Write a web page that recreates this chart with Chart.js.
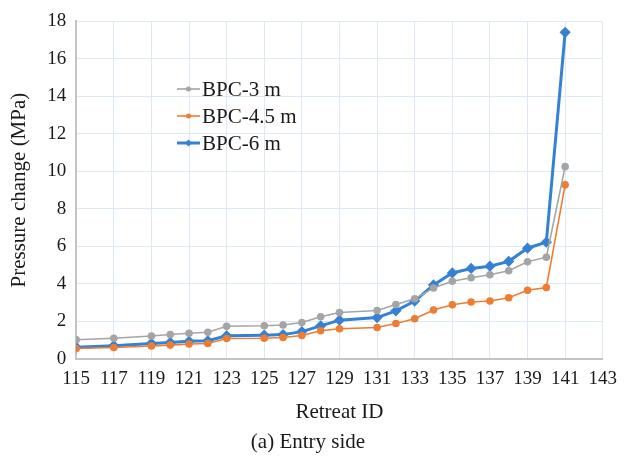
<!DOCTYPE html>
<html>
<head>
<meta charset="utf-8">
<script src="https://cdn.jsdelivr.net/npm/chart.js@4.4.0/dist/chart.umd.min.js"></script>
<style>
  html, body { margin: 0; padding: 0; background: #fff; }
  #wrap { width: 626px; height: 464px; position: relative; }
</style>
</head>
<body>
<div id="wrap"><canvas id="mychart_line"></canvas></div>
<script>
// データ
var retreatIds = [115, 117, 119, 120, 121, 122, 123, 125, 126, 127, 128, 129, 131, 132, 133, 134, 135, 136, 137, 138, 139, 140, 141];
var bpc3  = [1.02, 1.1, 1.22, 1.3, 1.36, 1.42, 1.74, 1.76, 1.8, 1.94, 2.24, 2.47, 2.58, 2.9, 3.2, 3.78, 4.14, 4.32, 4.48, 4.7, 5.18, 5.42, 10.25];
var bpc45 = [0.55, 0.6, 0.68, 0.73, 0.79, 0.82, 1.08, 1.1, 1.14, 1.24, 1.5, 1.6, 1.67, 1.88, 2.14, 2.6, 2.88, 3.03, 3.08, 3.26, 3.66, 3.8, 9.28];
var bpc6  = [0.62, 0.7, 0.82, 0.87, 0.93, 0.96, 1.23, 1.26, 1.29, 1.45, 1.76, 2.06, 2.2, 2.56, 3.08, 3.94, 4.58, 4.82, 4.94, 5.2, 5.9, 6.22, 17.42];
var seriesLabels = ['BPC-3 m', 'BPC-4.5 m', 'BPC-6 m'];
var xTicks = [115, 143, 2];   // min, max, step
var yTicks = [0, 18, 2];

function toPoints(vals) {
  return retreatIds.map(function(id, i) { return {x: id, y: vals[i]}; });
}

var serif = '"Liberation Serif", "Times New Roman", serif';
var textColor = '#1a1a1a';

// 凡例（グラフ内に描く）
var innerLegend = {
  id: 'innerLegend',
  afterDraw: function(chart) {
    var ctx = chart.ctx;
    var x0 = 177, y0 = 89, gap = 27;
    ctx.save();
    chart.data.datasets.forEach(function(ds, i) {
      var y = y0 + i * gap;
      ctx.strokeStyle = ds.borderColor;
      ctx.lineWidth = ds.borderWidth;
      ctx.beginPath();
      ctx.moveTo(x0, y);
      ctx.lineTo(x0 + 23, y);
      ctx.stroke();
      ctx.fillStyle = ds.borderColor;
      ctx.beginPath();
      if (ds.pointStyle === 'rectRot') {
        var r = 3.5;
        ctx.moveTo(x0 + 11.5, y - r); ctx.lineTo(x0 + 11.5 + r, y);
        ctx.lineTo(x0 + 11.5, y + r); ctx.lineTo(x0 + 11.5 - r, y);
        ctx.closePath();
      } else {
        ctx.arc(x0 + 11.5, y, 2.5, 0, Math.PI * 2);
      }
      ctx.fill();
      ctx.fillStyle = textColor;
      ctx.font = '21px ' + serif;
      ctx.textBaseline = 'middle';
      ctx.fillText(ds.label, x0 + 25, y + 1);
    });
    ctx.restore();
  }
};

var ctx_line = document.getElementById('mychart_line');
var myChart = new Chart(ctx_line, {
  type: 'line',
  data: {
    datasets: [{
      label: seriesLabels[0],
      data: toPoints(bpc3),
      borderColor: '#a5a5a5',
      backgroundColor: '#a5a5a5',
      borderWidth: 1.6,
      pointRadius: 3,
      pointStyle: 'circle',
    }, {
      label: seriesLabels[1],
      data: toPoints(bpc45),
      borderColor: '#ee7d31',
      backgroundColor: '#ee7d31',
      borderWidth: 1.6,
      pointRadius: 3,
      pointStyle: 'circle',
    }, {
      label: seriesLabels[2],
      data: toPoints(bpc6),
      borderColor: '#3581d3',
      backgroundColor: '#3581d3',
      borderWidth: 3,
      pointRadius: 3.5,
      pointStyle: 'rectRot',
    }],
  },
  options: {
    responsive: true,
    maintainAspectRatio: false,
    animation: false,
    layout: { padding: { left: 7, right: 17, top: 7, bottom: 9 } },
    scales: {
      x: {
        type: 'linear',
        min: xTicks[0],
        max: xTicks[1],
        ticks: { stepSize: xTicks[2], color: textColor, font: { family: serif, size: 19 }, padding: 9, maxRotation: 0 },
        grid: { color: '#dde9f7', drawTicks: false },
        border: { color: '#c4c4c4', width: 2 },
        title: { display: true, text: 'Retreat ID', color: textColor, font: { family: serif, size: 21 }, padding: { top: 0, bottom: 0 } },
      },
      y: {
        min: yTicks[0],
        max: yTicks[1],
        ticks: { stepSize: yTicks[2], color: textColor, font: { family: serif, size: 19 }, padding: 10 },
        grid: { color: '#dde9f7', drawTicks: false },
        border: { color: '#c4c4c4', width: 2 },
        title: { display: true, text: 'Pressure change (MPa)', color: textColor, font: { family: serif, size: 21 }, padding: { top: 0, bottom: 5 } },
      },
    },
    plugins: {
      legend: { display: false },
      tooltip: { enabled: false },
      title: {
        display: true,
        position: 'bottom',
        text: '(a) Entry side',
        color: textColor,
        font: { family: serif, size: 21, weight: 'normal' },
        padding: { top: 5, bottom: 0 },
      },
    },
  },
  plugins: [innerLegend],
});
</script>
</body>
</html>
